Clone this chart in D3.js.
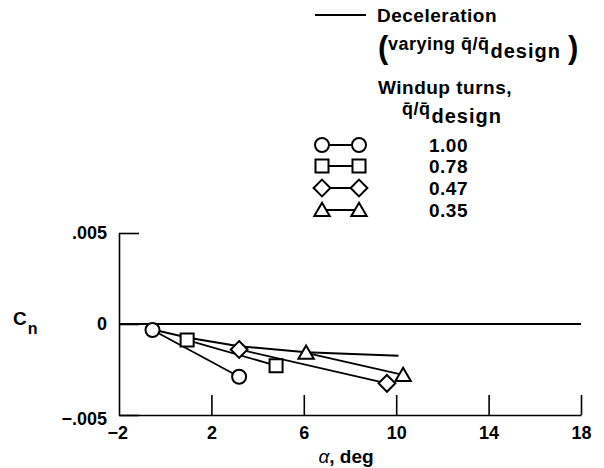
<!DOCTYPE html>
<html>
<head>
<meta charset="utf-8">
<script src="https://cdn.jsdelivr.net/npm/d3@7"></script>
<style>
  html, body { margin: 0; padding: 0; background: #fff; }
  svg { display: block; }
  text { font-family: "Liberation Sans", Arial, Helvetica, sans-serif; font-weight: bold; fill: #000; }
</style>
</head>
<body>
<svg id="chart" width="604" height="468"></svg>
<script>
// ---- data ----
const xTicks = [-2, 2, 6, 10, 14, 18];
const xTickLabels = ["\u22122", "2", "6", "10", "14", "18"];
const yTicks = [-0.005, 0, 0.005];
const yTickLabels = ["\u2212.005", "0", ".005"];

const decelAlpha = [-0.55, 1.0, 3.2, 6.1, 10.1];
const decelCn    = [-0.0003, -0.00075, -0.00122, -0.00155, -0.00175];

const circleAlpha = [-0.55, 3.2];
const circleCn    = [-0.00033, -0.0029];
const squareAlpha = [0.95, 4.8];
const squareCn    = [-0.00088, -0.00229];
const diamondAlpha = [3.2, 9.6];
const diamondCn    = [-0.0014, -0.00326];
const triangleAlpha = [6.1, 10.3];
const triangleCn    = [-0.00158, -0.0028];

const seriesNames = ["circle", "square", "diamond", "triangle"];
const seriesLabels = ["1.00", "0.78", "0.47", "0.35"];

// ---- setup ----
const svg = d3.select("#chart");
const x = d3.scaleLinear().domain([-2, 18]).range([119, 581]);
const y = d3.scaleLinear().domain([-0.005, 0.005]).range([415, 233]);

// custom marker shapes
const shapes = {
  circle: { draw(c, s) { const r = s; c.moveTo(r, 0); c.arc(0, 0, r, 0, 2 * Math.PI); } },
  square: { draw(c, s) { const h = s * 0.93; c.rect(-h, -h, 2 * h, 2 * h); } },
  diamond: { draw(c, s) { const h = s * 1.2; c.moveTo(0, -h); c.lineTo(h, 0); c.lineTo(0, h); c.lineTo(-h, 0); c.closePath(); } },
  triangle: { draw(c, s) { const w = s * 1.1, h = s * 1.9; c.moveTo(0, -h * 0.55); c.lineTo(w, h * 0.45); c.lineTo(-w, h * 0.45); c.closePath(); } }
};
function markerPath(name, s) {
  const p = d3.path();
  shapes[name].draw(p, s);
  return p.toString();
}

// ---- axes ----
const xAxis = d3.axisBottom(x).tickValues(xTicks)
  .tickFormat((d, i) => xTickLabels[i]).tickSize(-20).tickSizeOuter(0).tickPadding(11);
const gx = svg.append("g").attr("transform", `translate(0,${y(-0.005)})`).call(xAxis);
gx.selectAll("text").attr("font-size", 18).attr("dy", "0.72em");
gx.selectAll("line").attr("stroke", "#000").attr("stroke-width", 1.6);
gx.select(".domain").attr("stroke", "#000").attr("stroke-width", 1.6);
gx.selectAll(".tick").filter(d => d === -2).select("line").remove();
gx.selectAll(".tick").filter(d => d === -2).select("text").attr("dx", "-0.1em");

const yAxis = d3.axisLeft(y).tickValues(yTicks)
  .tickFormat((d, i) => yTickLabels[i]).tickSize(-20).tickSizeOuter(0).tickPadding(12);
const gy = svg.append("g").attr("transform", `translate(${x(-2)},0)`).call(yAxis);
gy.selectAll("text").attr("font-size", 18);
gy.selectAll("line").attr("stroke", "#000").attr("stroke-width", 1.6);
gy.select(".domain").attr("stroke", "#000").attr("stroke-width", 1.6);
gy.selectAll(".tick").filter(d => d === -0.005).select("text").attr("dy", "0.55em");

// zero line
svg.append("line").attr("x1", x(-2)).attr("x2", x(18)).attr("y1", y(0)).attr("y2", y(0))
  .attr("stroke", "#000").attr("stroke-width", 2);

// axis titles
const cn = svg.append("text").attr("x", 13).attr("y", 325).attr("font-size", 19);
cn.append("tspan").text("C");
cn.append("tspan").attr("font-size", 16).attr("dy", 9).attr("dx", 1).text("n");

const at = svg.append("text").attr("x", 346).attr("y", 463).attr("text-anchor", "middle").attr("font-size", 19);
at.append("tspan").attr("font-style", "italic").attr("font-weight", "normal").text("\u03b1");
at.append("tspan").text(", deg");

// ---- data lines ----
const line = d3.line().x(d => x(d[0])).y(d => y(d[1]));
svg.append("path").datum(decelAlpha.map((a, i) => [a, decelCn[i]]))
  .attr("d", line).attr("fill", "none").attr("stroke", "#000").attr("stroke-width", 2);

const seriesData = {
  circle: circleAlpha.map((a, i) => [a, circleCn[i]]),
  square: squareAlpha.map((a, i) => [a, squareCn[i]]),
  diamond: diamondAlpha.map((a, i) => [a, diamondCn[i]]),
  triangle: triangleAlpha.map((a, i) => [a, triangleCn[i]])
};
seriesNames.forEach(n => {
  svg.append("path").datum(seriesData[n]).attr("d", line)
    .attr("fill", "none").attr("stroke", "#000").attr("stroke-width", 1.8);
});
seriesNames.forEach(n => {
  svg.selectAll(null).data(seriesData[n]).enter().append("path")
    .attr("transform", d => `translate(${x(d[0])},${y(d[1])})`)
    .attr("d", markerPath(n, 7))
    .attr("fill", "#fff").attr("stroke", "#000").attr("stroke-width", 2);
});

// ---- legend ----
const lg = svg.append("g").attr("letter-spacing", 0.5);
lg.append("line").attr("x1", 315).attr("x2", 366).attr("y1", 15).attr("y2", 15)
  .attr("stroke", "#000").attr("stroke-width", 2);
lg.append("text").attr("x", 377).attr("y", 22).attr("font-size", 19).text("Deceleration");
lg.append("text").attr("x", 378).attr("y", 58).attr("font-size", 31).attr("font-weight", "normal").text("(");
const t2 = lg.append("text").attr("x", 388).attr("y", 50).attr("font-size", 18);
t2.append("tspan").text("varying q\u0304/q\u0304");
t2.append("tspan").attr("dy", 8).attr("dx", 1).attr("font-size", 20).attr("letter-spacing", 1).text("design");
lg.append("text").attr("x", 568).attr("y", 58).attr("font-size", 31).attr("font-weight", "normal").text(")");

lg.append("text").attr("x", 378).attr("y", 94).attr("font-size", 19).text("Windup turns,");
const t3 = lg.append("text").attr("x", 402).attr("y", 115).attr("font-size", 18);
t3.append("tspan").text("q\u0304/q\u0304");
t3.append("tspan").attr("dy", 8).attr("dx", 1).attr("font-size", 20).attr("letter-spacing", 1).text("design");

const rowY = [145, 166, 188, 210];
seriesNames.forEach((n, i) => {
  const g = lg.append("g").attr("transform", `translate(0,${rowY[i]})`);
  g.append("line").attr("x1", 322).attr("x2", 359).attr("y1", 0).attr("y2", 0)
    .attr("stroke", "#000").attr("stroke-width", 1.8);
  [322, 359].forEach(cx => {
    g.append("path").attr("transform", `translate(${cx},0)`).attr("d", markerPath(n, 7))
      .attr("fill", "#fff").attr("stroke", "#000").attr("stroke-width", 2);
  });
  g.append("text").attr("x", 429).attr("y", 7).attr("font-size", 19).text(seriesLabels[i]);
});
</script>
</body>
</html>
